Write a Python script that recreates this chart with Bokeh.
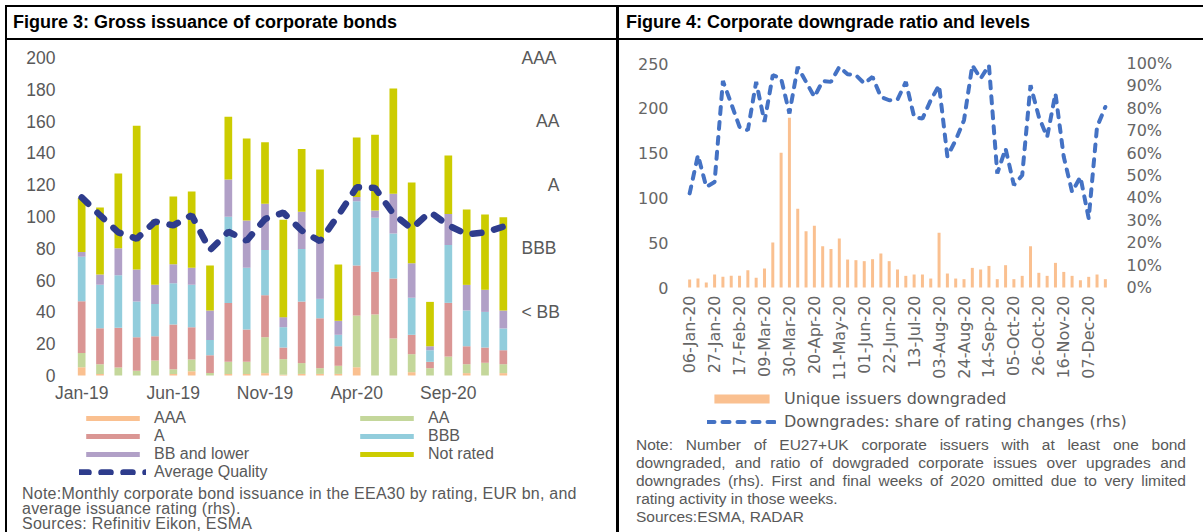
import math
from bokeh.plotting import figure
from bokeh.models import (ColumnDataSource, Range1d, LinearAxis, FixedTicker, Legend,
                          LegendItem, PrintfTickFormatter, Div)
from bokeh.layouts import row, column
from bokeh.embed import file_html
from bokeh.resources import INLINE

# ---------------- Figure 3 data ----------------
months = ["Jan-19", "Feb-19", "Mar-19", "Apr-19", "May-19", "Jun-19", "Jul-19", "Aug-19",
          "Sep-19", "Oct-19", "Nov-19", "Dec-19", "Jan-20", "Feb-20", "Mar-20", "Apr-20",
          "May-20", "Jun-20", "Jul-20", "Aug-20", "Sep-20", "Oct-20", "Nov-20", "Dec-20"]
month_ticks = ["Jan-19", "Jun-19", "Nov-19", "Apr-20", "Sep-20"]
aaa = [5.2, 1, 0, 0, 0, 1, 2.7, 0, 1, 1, 1.5, 0.5, 1, 1, 1, 5.2, 0, 0, 2.1, 0, 0, 1.5, 0, 1.5]
aa = [9, 6, 5, 3, 9.4, 3, 7.3, 1.5, 7.6, 7.6, 22.6, 9.8, 6.8, 3.6, 5.1, 32.5, 38.4, 23.3,
      11.3, 4.6, 11.9, 5.6, 8, 5.6]
a_ = [32.5, 22.7, 25, 21, 15.3, 28, 20.4, 11.3, 37, 20.3, 26.4, 7.3, 38.7, 31.4, 12.3, 31.5,
      26.8, 37.7, 12.2, 4, 33.8, 11.3, 9.6, 8.8]
bbb = [28, 27.4, 33, 22.6, 20.3, 26, 26.6, 9.6, 54.3, 38.8, 28.5, 12.8, 33, 12.2, 7.2, 40.4,
       34, 28.3, 23.3, 7.3, 36.3, 22.5, 22.4, 13.7]
bb = [3, 6.5, 17, 20, 12, 12, 10.7, 18.5, 23.3, 29.8, 29, 6.3, 23.5, 36.1, 8.8, 2.6, 4.6, 25,
      21.7, 2.5, 19.5, 16.1, 13.9, 11.3]
not_rated = [34, 42, 47, 90.5, 41, 42.6, 48, 28.3, 39.6, 51.5, 38.7, 61.3, 39.4, 45.3, 35.4,
             37.5, 47.6, 66.2, 50.8, 27.9, 36.9, 47.4, 47.4, 58.7]
avg_quality = [2.80, 2.52, 2.25, 2.15, 2.42, 2.36, 2.52, 1.97, 2.26, 2.12, 2.46, 2.56,
               2.28, 2.11, 2.52, 2.96, 2.95, 2.54, 2.31, 2.57, 2.36, 2.22, 2.25, 2.34]
quality_labels = {1: "< BB", 2: "BBB", 3: "\u2003\u2002A", 4: "\u2002\u2004AA", 5: "AAA"}
series3 = ["AAA", "AA", "A", "BBB", "BB and lower", "Not rated"]
colors3 = ["#FAC090", "#C4D79B", "#DA9694", "#92CDDC", "#B1A0C7", "#CCCC00"]

# ---------------- Figure 4 data ----------------
week_tick_labels = ["06-Jan-20", "27-Jan-20", "17-Feb-20", "09-Mar-20", "30-Mar-20",
                    "20-Apr-20", "11-May-20", "01-Jun-20", "22-Jun-20", "13-Jul-20",
                    "03-Aug-20", "24-Aug-20", "14-Sep-20", "05-Oct-20", "26-Oct-20",
                    "16-Nov-20", "07-Dec-20"]
downgraded = [9, 10, 5.5, 14.5, 12, 13, 13, 19.3, 11, 21.2, 50.2, 150.3, 189.5, 88, 62.8,
              68.8, 46, 43, 54.7, 31.2, 30.5, 29.4, 31.6, 37.9, 29.4, 20.1, 13, 14.5, 14.5,
              10, 61, 15.6, 10, 9.3, 21.9, 20.1, 24.1, 9.3, 24.9, 9.3, 13, 46.1, 16.4, 13,
              27.5, 17.4, 13, 8.1, 11.9, 14.5, 9.3]
share_pct = [42.0, 59.1, 44.9, 47.1, 92.2, 82.1, 71.7, 70.2, 91.8, 73.9, 94.8, 93.3, 77.7,
             98.5, 91.8, 85.1, 92.2, 91.8, 98.5, 95.2, 94.8, 91.1, 94.0, 85.1, 83.6, 83.9,
             91.8, 76.2, 75.4, 83.6, 90.3, 58.5, 65.8, 74.7, 99.2, 93.3, 99.2, 50.9, 62.0,
             45.7, 50.1, 90.3, 76.2, 67.2, 86.6, 58.3, 42.7, 49.4, 30.8, 71.7, 80.6]

GREY = "#595959"

# ---------------- layout geometry (canvas pixels) ----------------
# Figure 3 canvas 609x446; plot box x 65..505, zero line at y 335, top value at y 17
F3_W, F3_H = 609, 446
F3_L, F3_R, F3_ZERO, F3_TOPV = 65, 505, 335, 17
N3 = len(months)
ux3 = (F3_R - F3_L) / N3
uy3 = (F3_ZERO - F3_TOPV) / 200.0
x3_lo = -0.5 - F3_L / ux3
x3_hi = -0.5 + (F3_W - F3_L) / ux3
y3_lo = -(F3_H - F3_ZERO) / uy3
y3_hi = F3_ZERO / uy3

# Figure 4 canvas 584x394; plot box x 66..490, zero line at y 247, top value at y 23
F4_W, F4_H = 584, 394
F4_L, F4_R, F4_ZERO, F4_TOPV = 66, 490, 247, 23
N4 = len(downgraded)
ux4 = (F4_R - F4_L) / N4
uy4 = (F4_ZERO - F4_TOPV) / 250.0
x4_lo = -0.5 - F4_L / ux4
x4_hi = -0.5 + (F4_W - F4_L) / ux4
y4_lo = -(F4_H - F4_ZERO) / uy4
y4_hi = F4_ZERO / uy4


def style_axis(ax, font, size, color, standoff):
    ax.axis_line_color = None
    ax.major_tick_line_color = None
    ax.minor_tick_line_color = None
    ax.major_tick_out = 0
    ax.major_tick_in = 0
    ax.major_label_text_font = font
    ax.major_label_text_font_size = size
    ax.major_label_text_color = color
    ax.major_label_standoff = standoff


# ================= Figure 3 =================
src3 = ColumnDataSource(dict(x=list(range(N3)), AAA=aaa, AA=aa, A=a_, BBB=bbb,
                             BB=bb, NR=not_rated, q=avg_quality))
p3 = figure(width=F3_W, height=F3_H, x_range=Range1d(x3_lo, x3_hi),
            y_range=Range1d(y3_lo, y3_hi), x_axis_location=None, y_axis_location=None,
            output_backend="svg", toolbar_location=None,
            min_border=0, outline_line_color=None,
            background_fill_color="white", border_fill_color="white")
p3.xgrid.grid_line_color = None
p3.ygrid.grid_line_color = None

bars3 = p3.vbar_stack(["AAA", "AA", "A", "BBB", "BB", "NR"], x="x", width=0.42,
                      fill_color=colors3, line_color=None, source=src3)
p3.extra_y_ranges = {"q": Range1d(5 * y3_lo / 200, 5 * y3_hi / 200)}
line3 = p3.line(x="x", y="q", source=src3, y_range_name="q", line_color="#2E3C8C",
                line_width=6.5, line_dash="9 13", line_cap="round")

xax3 = LinearAxis(fixed_location=0, ticker=FixedTicker(ticks=[months.index(m) for m in month_ticks]),
                  major_label_overrides={months.index(m): m for m in month_ticks})
yax3 = LinearAxis(fixed_location=-0.5, ticker=FixedTicker(ticks=list(range(0, 201, 20))))
rax3 = LinearAxis(y_range_name="q", fixed_location=N3 - 0.5,
                  ticker=FixedTicker(ticks=[1, 2, 3, 4, 5]),
                  major_label_overrides=quality_labels)
p3.add_layout(xax3, "below")
p3.add_layout(yax3, "left")
p3.add_layout(rax3, "right")
style_axis(xax3, "Liberation Sans", "17.5px", GREY, 7)
style_axis(yax3, "Liberation Sans", "17.5px", GREY, 17)
style_axis(rax3, "Liberation Sans", "17.5px", GREY, 9)

leg_kw = dict(glyph_width=67, glyph_height=6, label_standoff=8, label_height=18, spacing=0,
              padding=0, margin=0, border_line_color=None, background_fill_alpha=0,
              label_text_font="Liberation Sans", label_text_font_size="16px",
              label_text_color=GREY)
leg3a = Legend(items=[LegendItem(label=series3[0], renderers=[bars3[0]]),
                      LegendItem(label=series3[2], renderers=[bars3[2]]),
                      LegendItem(label=series3[4], renderers=[bars3[4]]),
                      LegendItem(label="Average Quality", renderers=[line3])],
               location=(72, 5), **leg_kw)
leg3b = Legend(items=[LegendItem(label=series3[1], renderers=[bars3[1]]),
                      LegendItem(label=series3[3], renderers=[bars3[3]]),
                      LegendItem(label=series3[5], renderers=[bars3[5]])],
               location=(346, 23), **leg_kw)
p3.add_layout(leg3a)
p3.add_layout(leg3b)

# ================= Figure 4 =================
src4 = ColumnDataSource(dict(x=list(range(N4)), down=downgraded, share=share_pct))
p4 = figure(width=F4_W, height=F4_H, x_range=Range1d(x4_lo, x4_hi),
            y_range=Range1d(y4_lo, y4_hi), x_axis_location=None, y_axis_location=None,
            output_backend="svg", toolbar_location=None,
            min_border=0, outline_line_color=None,
            background_fill_color="white", border_fill_color="white")
p4.xgrid.grid_line_color = None
p4.ygrid.grid_line_color = None
bars4 = p4.vbar(x="x", top="down", width=0.36, source=src4, fill_color="#FAC090",
                line_color=None)
p4.extra_y_ranges = {"pct": Range1d(100 * y4_lo / 250, 100 * y4_hi / 250)}
line4 = p4.line(x="x", y="share", source=src4, y_range_name="pct", line_color="#4472C4",
                line_width=4, line_dash="7 8", line_cap="round")

xax4 = LinearAxis(fixed_location=0,
                  ticker=FixedTicker(ticks=[3 * i for i in range(len(week_tick_labels))]),
                  major_label_overrides={3 * i: lab for i, lab in enumerate(week_tick_labels)},
                  major_label_orientation=math.pi / 2)
yax4 = LinearAxis(fixed_location=-0.5, ticker=FixedTicker(ticks=list(range(0, 251, 50))))
rax4 = LinearAxis(y_range_name="pct", fixed_location=N4 - 0.5,
                  ticker=FixedTicker(ticks=list(range(0, 101, 10))),
                  formatter=PrintfTickFormatter(format="%d%%"))
p4.add_layout(xax4, "below")
p4.add_layout(yax4, "left")
p4.add_layout(rax4, "right")
style_axis(xax4, "DejaVu Sans", "16px", "#666666", 8)
style_axis(yax4, "DejaVu Sans", "16px", "#666666", 17)
style_axis(rax4, "DejaVu Sans", "16px", "#666666", 17)

leg4 = Legend(items=[LegendItem(label="Unique issuers downgraded", renderers=[bars4]),
                     LegendItem(label="Downgrades: share of rating changes (rhs)",
                                renderers=[line4])],
              location=(88, 1), glyph_width=69, glyph_height=11, label_standoff=8,
              label_height=23, spacing=0, padding=0, margin=0, border_line_color=None,
              background_fill_alpha=0, label_text_font="DejaVu Sans",
              label_text_font_size="16px", label_text_color=GREY)
p4.add_layout(leg4)

# ================= Frame, headers, notes =================
def rule(w, h):
    return Div(text="", width=w, height=h, margin=0, styles={"background-color": "#000000"})

def gap(w, h):
    return Div(text="", width=w, height=h, margin=0)

def header(txt, w, pad):
    html = ('<div style="font-family:\'Liberation Sans\',Arial,sans-serif;font-weight:700;'
            'font-size:18px;line-height:30px;padding-left:%dpx;white-space:nowrap;color:#000">'
            '%s</div>' % (pad, txt))
    return Div(text=html, width=w, height=31, margin=0, styles={"overflow": "hidden"})

note3_html = ('<div style="font-family:\'Liberation Sans\',Arial,sans-serif;font-size:16px;'
              'letter-spacing:0.23px;line-height:15px;color:#595959;padding-left:15px;'
              'white-space:nowrap">'
              'Note:Monthly corporate bond issuance in the EEA30 by rating, EUR bn, and<br>'
              'average issuance rating (rhs).<br>Sources: Refinitiv Eikon, ESMA</div>')
note3 = Div(text=note3_html, width=609, height=46, margin=0, styles={"overflow": "hidden"})

J = '<div style="text-align:justify;text-align-last:justify">%s</div>'
note4_html = ('<div style="font-family:\'Liberation Sans\',Arial,sans-serif;font-size:15.5px;'
              'line-height:18px;color:#595959;padding:2px 0 0 17px;width:567px;'
              'box-sizing:border-box">'
              + J % "Note: Number of EU27+UK corporate issuers with at least one bond"
              + J % "downgraded, and ratio of dowgraded corporate issues over upgrades and"
              + J % "downgrades (rhs). First and final weeks of 2020 omitted due to very limited"
              + '<div>rating activity in those weeks.</div><div>Sources:ESMA, RADAR</div></div>')
note4 = Div(text=note4_html, width=584, height=98, margin=0, styles={"overflow": "hidden"})

left = column(header("Figure 3: Gross issuance of corporate bonds", 609, 6), rule(609, 2),
              p3, note3, spacing=0)
right = column(header("Figure 4: Corporate downgrade ratio and levels", 584, 7), rule(584, 2),
               p4, note4, spacing=0)
body = row(gap(5, 525), rule(2, 525), left, rule(3, 525), right, spacing=0)
top = row(gap(5, 2), rule(1198, 2), spacing=0)
root = column(gap(1203, 5), top, body, spacing=0)

open("out.html", "w").write(file_html(root, INLINE))
